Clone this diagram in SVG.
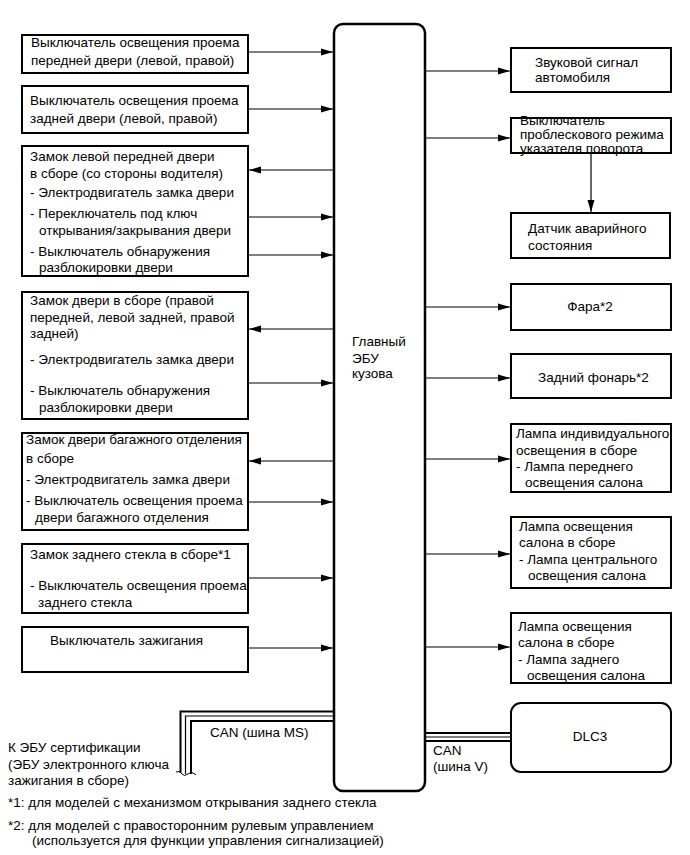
<svg xmlns="http://www.w3.org/2000/svg" width="690" height="855" viewBox="0 0 690 855">
<style>
text{font-family:"Liberation Sans",Arial,sans-serif;font-size:13.5px;fill:#000}
.box{fill:#fff;stroke:#000;stroke-width:2}
.ecu{fill:#fff;stroke:#000;stroke-width:2.5}
.c{stroke:#000;stroke-width:1.2;fill:none}
.bus{stroke:#000;fill:none}
</style>
<defs>
<marker id="ah" markerWidth="12" markerHeight="8" refX="12" refY="4" orient="auto" markerUnits="userSpaceOnUse">
<path d="M0,0.5 L12,4 L0,7.5 z" fill="#000"/>
</marker>
</defs>
<rect width="690" height="855" fill="#fff"/>

<g id="ecu">
<rect class="ecu" x="334" y="24" width="91" height="767" rx="9"/>
<text x="352" y="346">Главный</text>
<text x="352" y="363">ЭБУ</text>
<text x="352" y="378">кузова</text>
</g>

<g id="connectors">
<line class="c" x1="248" y1="52" x2="333" y2="52" marker-end="url(#ah)"/>
<line class="c" x1="248" y1="109" x2="333" y2="109" marker-end="url(#ah)"/>
<line class="c" x1="333" y1="170" x2="249" y2="170" marker-end="url(#ah)"/>
<line class="c" x1="248" y1="217" x2="333" y2="217" marker-end="url(#ah)"/>
<line class="c" x1="248" y1="255" x2="333" y2="255" marker-end="url(#ah)"/>
<line class="c" x1="333" y1="329" x2="249" y2="329" marker-end="url(#ah)"/>
<line class="c" x1="248" y1="383" x2="333" y2="383" marker-end="url(#ah)"/>
<line class="c" x1="333" y1="461" x2="249" y2="461" marker-end="url(#ah)"/>
<line class="c" x1="248" y1="502" x2="333" y2="502" marker-end="url(#ah)"/>
<line class="c" x1="248" y1="578" x2="333" y2="578" marker-end="url(#ah)"/>
<line class="c" x1="248" y1="648" x2="333" y2="648" marker-end="url(#ah)"/>
<line class="c" x1="425" y1="71" x2="510" y2="71" marker-end="url(#ah)"/>
<line class="c" x1="425" y1="138" x2="510" y2="138" marker-end="url(#ah)"/>
<line class="c" x1="591" y1="153" x2="591" y2="212" marker-end="url(#ah)"/>
<line class="c" x1="425" y1="307" x2="510" y2="307" marker-end="url(#ah)"/>
<line class="c" x1="425" y1="378" x2="510" y2="378" marker-end="url(#ah)"/>
<line class="c" x1="425" y1="459" x2="510" y2="459" marker-end="url(#ah)"/>
<line class="c" x1="425" y1="554" x2="510" y2="554" marker-end="url(#ah)"/>
<line class="c" x1="425" y1="647" x2="510" y2="647" marker-end="url(#ah)"/>
<!-- CAN V bus -->
<line class="bus" x1="425" y1="733" x2="511" y2="733" stroke-width="2"/>
<line class="bus" x1="425" y1="737" x2="511" y2="737" stroke-width="1.2"/>
<line class="bus" x1="425" y1="741" x2="511" y2="741" stroke-width="2"/>
<!-- CAN MS bus -->
<path class="bus" d="M333,711.5 H180.5 V773" stroke-width="2"/>
<path class="bus" d="M333,716 H185.5 V774" stroke-width="1.2"/>
<path class="bus" d="M333,721 H191 V774" stroke-width="2"/>
<path class="bus" d="M176,772 Q180,770 182,774 Q184,777 188,774 Q192,771 196,775" stroke-width="1"/>
<text x="210" y="737">CAN (шина MS)</text>
<text x="433" y="755">CAN</text>
<text x="433" y="771">(шина V)</text>
</g>

<g id="n1">
<rect class="box" x="22" y="35" width="226" height="38"/>
<text x="31" y="47">Выключатель освещения проема</text>
<text x="31" y="65">передней двери (левой, правой)</text>
</g>
<g id="n2">
<rect class="box" x="22" y="86" width="226" height="47"/>
<text x="30" y="105">Выключатель освещения проема</text>
<text x="30" y="123">задней двери (левой, правой)</text>
</g>
<g id="n3">
<rect class="box" x="22" y="146" width="226" height="130"/>
<text x="30" y="161">Замок левой передней двери</text>
<text x="30" y="178">в сборе (со стороны водителя)</text>
<text x="30" y="197">- Электродвигатель замка двери</text>
<text x="30" y="218">- Переключатель под ключ</text>
<text x="39" y="235">открывания/закрывания двери</text>
<text x="30" y="256">- Выключатель обнаружения</text>
<text x="39" y="272">разблокировки двери</text>
</g>
<g id="n4">
<rect class="box" x="22" y="292" width="226" height="127"/>
<text x="30" y="305">Замок двери в сборе (правой</text>
<text x="30" y="322">передней, левой задней, правой</text>
<text x="30" y="338">задней)</text>
<text x="30" y="364">- Электродвигатель замка двери</text>
<text x="30" y="395">- Выключатель обнаружения</text>
<text x="39" y="412">разблокировки двери</text>
</g>
<g id="n5">
<rect class="box" x="22" y="433" width="226" height="97"/>
<text x="26" y="444">Замок двери багажного отделения</text>
<text x="26" y="463">в сборе</text>
<text x="26" y="484">- Электродвигатель замка двери</text>
<text x="26" y="505">- Выключатель освещения проема</text>
<text x="35" y="522">двери багажного отделения</text>
</g>
<g id="n6">
<rect class="box" x="22" y="544" width="226" height="69"/>
<text x="30" y="559">Замок заднего стекла в сборе*1</text>
<text x="30" y="590">- Выключатель освещения проема</text>
<text x="38" y="607">заднего стекла</text>
</g>
<g id="n7">
<rect class="box" x="22" y="627" width="226" height="45"/>
<text x="50" y="645">Выключатель зажигания</text>
</g>

<g id="r1">
<rect class="box" x="511" y="48" width="160" height="44"/>
<text x="535" y="67">Звуковой сигнал</text>
<text x="535" y="82">автомобиля</text>
</g>
<g id="r2">
<rect class="box" x="511" y="118" width="160" height="35"/>
<text x="520" y="125">Выключатель</text>
<text x="520" y="139">проблескового режима</text>
<text x="520" y="153">указателя поворота</text>
</g>
<g id="r3">
<rect class="box" x="511" y="213" width="159" height="45"/>
<text x="528" y="233">Датчик аварийного</text>
<text x="528" y="250">состояния</text>
</g>
<g id="r4">
<rect class="box" x="511" y="284" width="160" height="46"/>
<text x="590" y="311" text-anchor="middle">Фара*2</text>
</g>
<g id="r5">
<rect class="box" x="511" y="354" width="160" height="44"/>
<text x="538" y="382">Задний фонарь*2</text>
</g>
<g id="r6">
<rect class="box" x="511" y="424" width="160" height="68"/>
<text x="516" y="438">Лампа индивидуального</text>
<text x="516" y="455">освещения в сборе</text>
<text x="516" y="471">- Лампа переднего</text>
<text x="525" y="487">освещения салона</text>
</g>
<g id="r7">
<rect class="box" x="511" y="517" width="160" height="71"/>
<text x="519" y="531">Лампа освещения</text>
<text x="519" y="547">салона в сборе</text>
<text x="519" y="564">- Лампа центрального</text>
<text x="528" y="580">освещения салона</text>
</g>
<g id="r8">
<rect class="box" x="511" y="613" width="160" height="70"/>
<text x="518" y="631">Лампа освещения</text>
<text x="518" y="647">салона в сборе</text>
<text x="518" y="664">- Лампа заднего</text>
<text x="527" y="680">освещения салона</text>
</g>
<g id="dlc3">
<rect class="box" x="511" y="703" width="160" height="69" rx="10"/>
<text x="590" y="741" text-anchor="middle">DLC3</text>
</g>

<g id="cert">
<text x="8" y="752">К ЭБУ сертификации</text>
<text x="8" y="769">(ЭБУ электронного ключа</text>
<text x="8" y="785">зажигания в сборе)</text>
</g>

<g id="notes">
<text x="8" y="807">*1: для моделей с механизмом открывания заднего стекла</text>
<text x="8" y="830">*2: для моделей с правосторонним рулевым управлением</text>
<text x="32" y="845">(используется для функции управления сигнализацией)</text>
</g>
</svg>
